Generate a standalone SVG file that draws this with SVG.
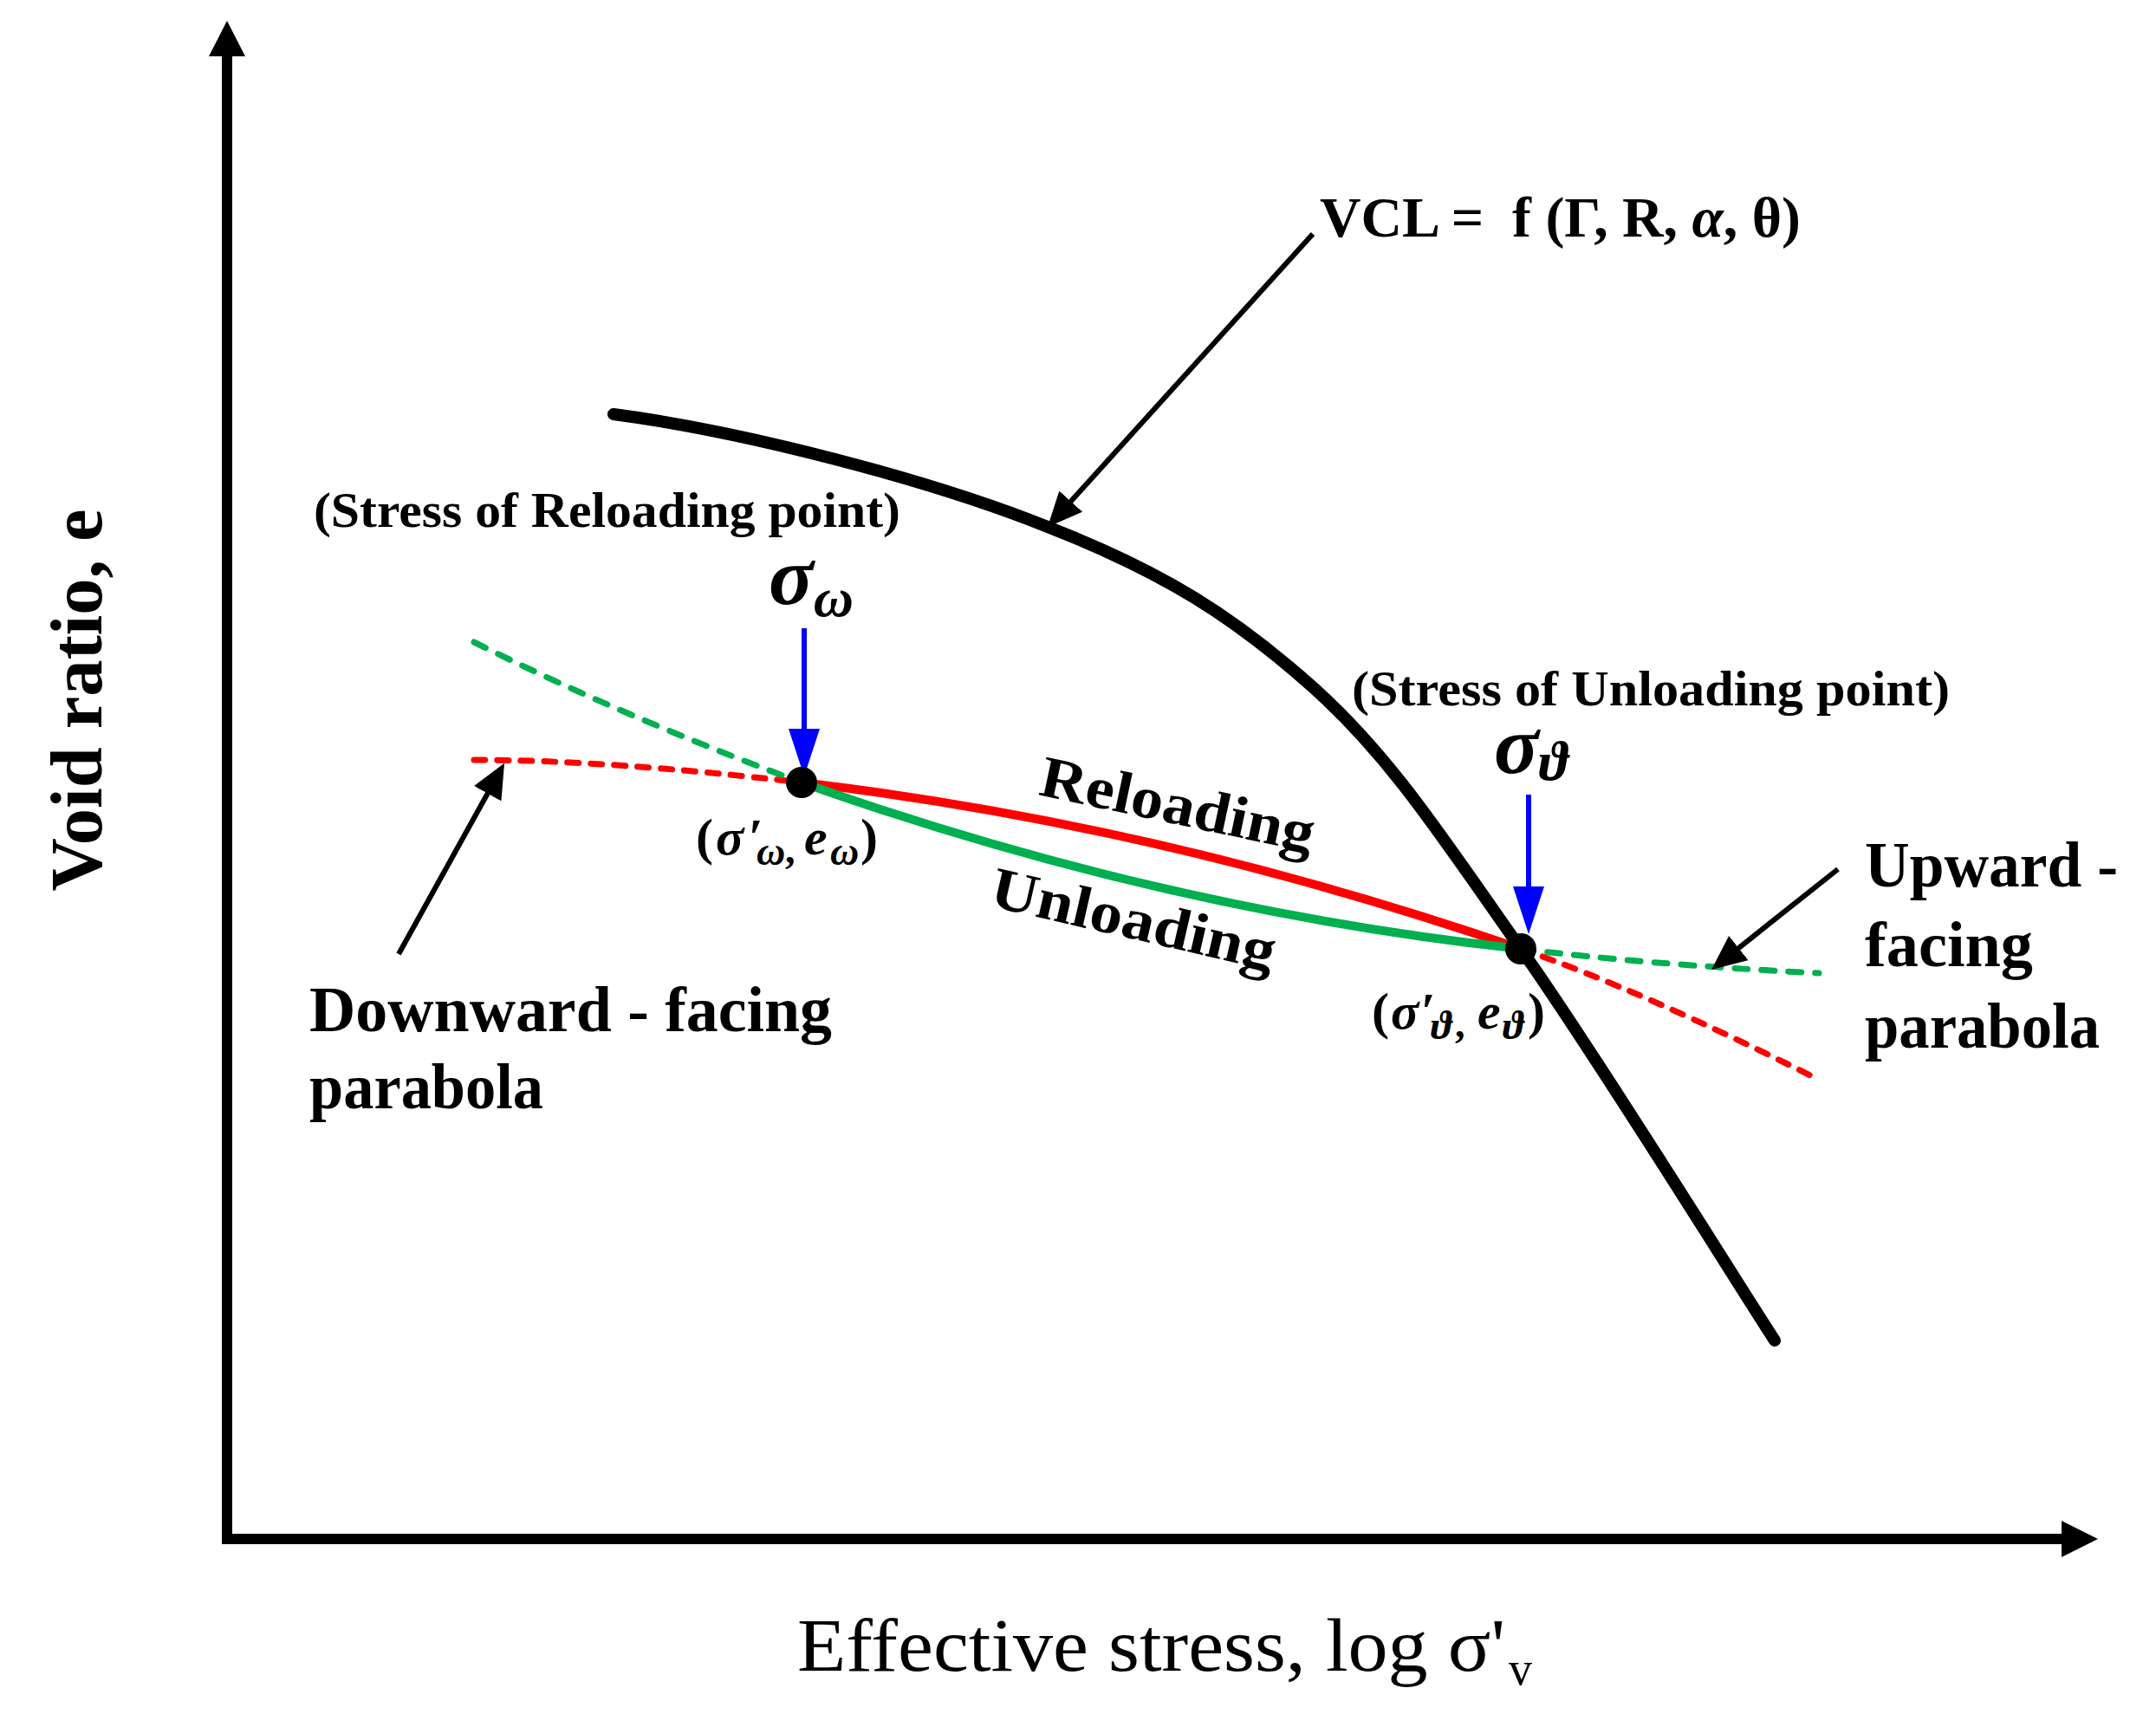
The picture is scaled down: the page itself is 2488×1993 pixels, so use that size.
<svg xmlns="http://www.w3.org/2000/svg" width="2488" height="1993" viewBox="0 0 2488 1993">
<style>
 text { font-family: "Liberation Serif", "DejaVu Serif", serif; fill:#000; }
 .b { font-weight: bold; }
 .i { font-style: italic; }
 .axis { fill:none; stroke:#000; stroke-width:12; stroke-linejoin:miter; }
 .vcl { fill:none; stroke:#000; stroke-width:14; stroke-linecap:round; }
 .red { fill:none; stroke:#FF0000; stroke-width:10; }
 .grn { fill:none; stroke:#00B050; stroke-width:10; }
 .rdash { fill:none; stroke:#FF0000; stroke-width:7; stroke-dasharray:13 14; stroke-linecap:round; }
 .gdash { fill:none; stroke:#00B050; stroke-width:7; stroke-dasharray:15 16; stroke-linecap:round; }
 .ptr { fill:none; stroke:#000; stroke-width:6; marker-end:url(#ah); }
 .bptr { fill:none; stroke:#0000FF; stroke-width:6; marker-end:url(#ahb); }
</style>
<defs>
 <marker id="ah" markerUnits="userSpaceOnUse" markerWidth="40" markerHeight="36" viewBox="0 0 40 36" refX="10" refY="18" orient="auto"><path d="M0,0 L40,18 L0,36 z" fill="#000"/></marker>
 <marker id="ahb" markerUnits="userSpaceOnUse" markerWidth="55" markerHeight="36" viewBox="0 0 55 36" refX="10" refY="18" orient="auto"><path d="M0,0 L55,18 L0,36 z" fill="#0000FF"/></marker>
</defs>
<rect width="2488" height="1993" fill="#fff"/>

<g id="axes">
 <path class="axis" d="M262,65 L262,1776 L2379,1776"/>
 <polygon points="241,65 283,65 262,24" fill="#000"/>
 <polygon points="2379,1755 2379,1797 2421,1776" fill="#000"/>
 <text class="b" transform="translate(117,808) rotate(-90)" text-anchor="middle" font-size="84" textLength="441" lengthAdjust="spacingAndGlyphs">Void ratio, e</text>
 <text x="920" y="1928" font-size="86" textLength="817" lengthAdjust="spacingAndGlyphs">Effective stress, log σ'</text>
 <text x="1741" y="1944" font-size="54">v</text>
</g>

<g id="curves">
 <path id="vcl" class="vcl" d="M708,478 C860,498 1074,554 1209,608 C1343.5,660.5 1424,711.8 1515,793 C1606,874.2 1666.2,969.3 1755,1095 C1843.8,1220.7 1999.2,1471.7 2048,1547"/>
 <path id="reload-ext-left" class="rdash" d="M547,877 Q701,877 925,903"/>
 <path id="unload-ext-left" class="gdash" d="M547,741 Q717,826 925,903"/>
 <path id="reload-ext-right" class="rdash" d="M1755,1095 Q1892,1142 2099,1246"/>
 <path id="unload-ext-right" class="gdash" d="M1755,1095 Q1900,1113 2099,1123"/>
 <path id="reloading" class="red" d="M925,903 Q1340,952 1755,1095"/>
 <path id="unloading" class="grn" d="M925,903 Q1340,1050 1755,1095"/>
</g>

<g id="connectors">
 <path class="ptr" d="M1515,270 L1229,586"/>
 <path class="ptr" d="M460,1101 L567.5,907"/>
 <path class="ptr" d="M2121,1003 L1998.5,1100.3"/>
 <path class="bptr" d="M928,725 L928,851"/>
 <path class="bptr" d="M1764,917 L1764,1033"/>
</g>

<g id="point-omega">
 <circle cx="925" cy="903" r="18" fill="#000"/>
 <text class="b" font-size="60"><tspan x="803" y="986">(</tspan><tspan class="i" x="826" y="986">σ</tspan><tspan x="864" y="986">′</tspan><tspan class="i" x="873" y="998" font-size="46">ω</tspan><tspan x="906" y="996" font-size="46">,</tspan><tspan class="i" x="928" y="986">e</tspan><tspan class="i" x="958" y="998" font-size="46">ω</tspan><tspan x="993" y="986">)</tspan></text>
</g>

<g id="point-theta">
 <circle cx="1755" cy="1095" r="18" fill="#000"/>
 <text class="b" font-size="60"><tspan x="1583" y="1187">(</tspan><tspan class="i" x="1605" y="1187">σ</tspan><tspan x="1640" y="1187">′</tspan><tspan class="i" x="1651" y="1199" font-size="46">ϑ</tspan><tspan x="1679" y="1197" font-size="46">,</tspan><tspan class="i" x="1705" y="1187">e</tspan><tspan class="i" x="1734" y="1199" font-size="46">ϑ</tspan><tspan x="1763" y="1187">)</tspan></text>
</g>

<g id="label-vcl">
 <text class="b" x="1523" y="273" font-size="66" xml:space="preserve" textLength="555" lengthAdjust="spacingAndGlyphs">VCL =  f (Γ, R, <tspan class="i">α</tspan>, θ)</text>
</g>

<g id="label-reload-stress">
 <text class="b" x="362" y="608" font-size="56" textLength="677" lengthAdjust="spacingAndGlyphs">(Stress of Reloading point)</text>
 <text class="b i" x="887" y="697" font-size="96">σ<tspan font-size="64" dy="14">ω</tspan></text>
</g>

<g id="label-unload-stress">
 <text class="b" x="1560" y="814" font-size="56" textLength="690" lengthAdjust="spacingAndGlyphs">(Stress of Unloading point)</text>
 <text class="b i" x="1724" y="892" font-size="96">σ<tspan font-size="64" dy="8">ϑ</tspan></text>
</g>

<g id="label-reloading">
 <text class="b" x="1197" y="917" font-size="68" transform="rotate(12 1197 917)" textLength="322" lengthAdjust="spacingAndGlyphs">Reloading</text>
</g>
<g id="label-unloading">
 <text class="b" x="1140" y="1045" font-size="68" transform="rotate(13 1140 1045)" textLength="335" lengthAdjust="spacingAndGlyphs">Unloading</text>
</g>

<g id="label-downward">
 <text class="b" x="357" y="1190" font-size="74" textLength="603" lengthAdjust="spacingAndGlyphs">Downward - facing</text>
 <text class="b" x="357" y="1279" font-size="74" textLength="270" lengthAdjust="spacingAndGlyphs">parabola</text>
</g>

<g id="label-upward">
 <text class="b" x="2152" y="1023" font-size="74" textLength="292" lengthAdjust="spacingAndGlyphs">Upward -</text>
 <text class="b" x="2152" y="1115" font-size="74" textLength="194" lengthAdjust="spacingAndGlyphs">facing</text>
 <text class="b" x="2152" y="1209" font-size="74" textLength="271" lengthAdjust="spacingAndGlyphs">parabola</text>
</g>
</svg>
